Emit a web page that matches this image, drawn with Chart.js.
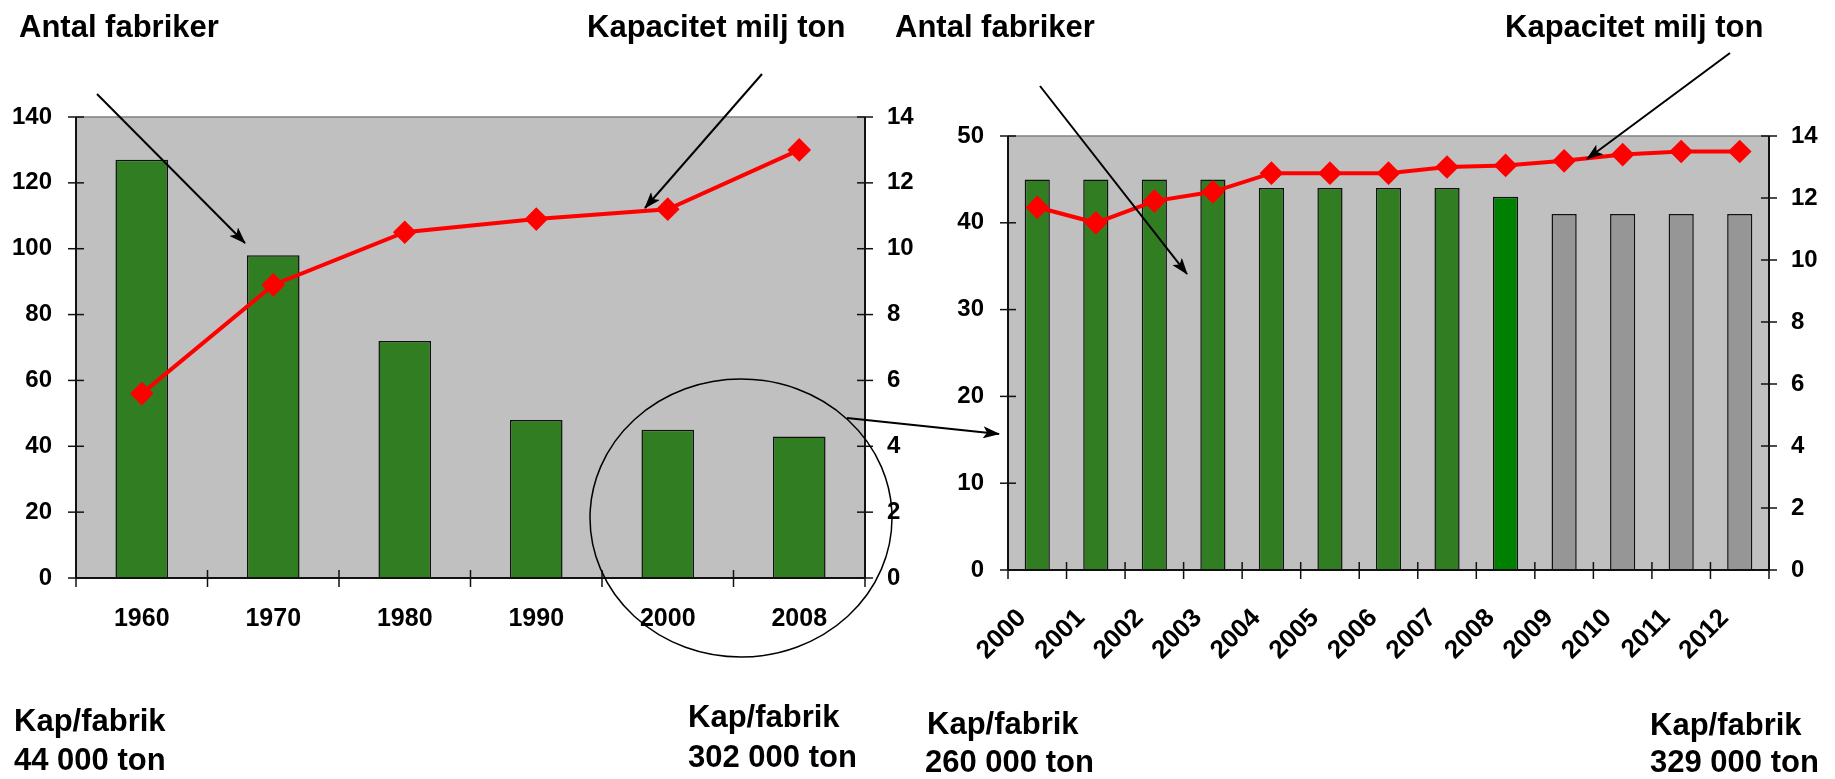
<!DOCTYPE html>
<html><head><meta charset="utf-8">
<script src="https://cdn.jsdelivr.net/npm/chart.js@4.4.1/dist/chart.umd.min.js"></script>
<style>
html,body{margin:0;padding:0;background:#fff;width:1835px;height:779px;overflow:hidden;}
#c1{position:absolute;left:0;top:0;}
#c2{position:absolute;left:940px;top:0;}
#ov{position:absolute;left:0;top:0;pointer-events:none;}
</style></head><body>
<canvas id="c1" width="940" height="779"></canvas>
<canvas id="c2" width="895" height="779"></canvas>
<svg id="ov" width="1835" height="779" xmlns="http://www.w3.org/2000/svg"></svg>
<script>
// ---- data ----
const leftYears = ['1960','1970','1980','1990','2000','2008'];
const leftFactories = [127, 98, 72, 48, 45, 43];
const leftCapacity = [5.6, 8.9, 10.5, 10.9, 11.2, 13.0];
const leftFactoryTicks = [0, 20, 40, 60, 80, 100, 120, 140];
const capacityTicks = [0, 2, 4, 6, 8, 10, 12, 14];

const rightYears = ['2000','2001','2002','2003','2004','2005','2006','2007','2008','2009','2010','2011','2012'];
const rightFactories = [45, 45, 45, 45, 44, 44, 44, 44, 43, 41, 41, 41, 41];
const rightCapacity = [11.7, 11.2, 11.9, 12.2, 12.8, 12.8, 12.8, 13.0, 13.05, 13.2, 13.4, 13.5, 13.5];
const rightFactoryTicks = [0, 10, 20, 30, 40, 50];
const highlightYear = '2008';
const forecastFrom = 2009;

const seriesNames = ['Antal fabriker', 'Kapacitet milj ton'];
const kapLabel = 'Kap/fabrik';
const kapValues = ['44 000 ton', '302 000 ton', '260 000 ton', '329 000 ton'];

// ---- styles ----
const GREEN = '#317e22', GREEN_HI = '#008000', GREY_BAR = '#969696';
const FONT = "'Liberation Sans', Arial, Helvetica, sans-serif";

const frame = {
  id: 'frame',
  beforeDatasetsDraw(chart) {
    const {ctx, chartArea: a} = chart;
    ctx.save();
    ctx.fillStyle = '#c0c0c0';
    ctx.fillRect(a.left, a.top, a.right - a.left, a.bottom - a.top);
    ctx.restore();
  },
  afterDatasetsDraw(chart) {
    const {ctx, chartArea: a, scales} = chart;
    const ln = (x1, y1, x2, y2) => { ctx.beginPath(); ctx.moveTo(x1, y1); ctx.lineTo(x2, y2); ctx.stroke(); };
    ctx.save();
    ctx.strokeStyle = '#808080'; ctx.lineWidth = 1.5;
    ln(a.left, a.top, a.right, a.top);
    ctx.strokeStyle = '#111'; ctx.lineWidth = 2;
    ln(a.left, a.top, a.left, a.bottom);
    ln(a.right, a.top, a.right, a.bottom);
    ln(a.left, a.bottom, a.right, a.bottom);
    ctx.lineWidth = 1.5;
    scales.y.ticks.forEach((t, i) => { const y = scales.y.getPixelForTick(i); ln(a.left - 8, y, a.left + 8, y); });
    scales.y1.ticks.forEach((t, i) => { const y = scales.y1.getPixelForTick(i); ln(a.right - 8, y, a.right + 8, y); });
    const n = scales.x.ticks.length;
    for (let i = 0; i <= n; i++) {
      const x = scales.x.left + i * (scales.x.width / n);
      ln(x, a.bottom - 8, x, a.bottom + 9);
    }
    ctx.restore();
  }
};

function makeChart(id, opts) {
  const tickFont = {family: FONT, size: 24, weight: 'bold'};
  return new Chart(document.getElementById(id), {
    type: 'bar',
    data: {
      labels: opts.labels,
      datasets: [
        {type: 'line', label: seriesNames[1], data: opts.capacity, yAxisID: 'y1', order: 0,
         borderColor: '#ff0000', borderWidth: 4, tension: 0,
         pointStyle: 'rectRot', pointRadius: 9, pointBackgroundColor: '#ff0000', pointBorderColor: '#ff0000'},
        {type: 'bar', label: seriesNames[0], data: opts.factories, yAxisID: 'y', order: 1,
         backgroundColor: opts.colors, borderColor: '#111', borderWidth: 1.5,
         categoryPercentage: 1, barPercentage: opts.barPct}
      ]
    },
    options: {
      responsive: false, animation: false, devicePixelRatio: 1,
      layout: {padding: {top: opts.top, left: 0, right: 0, bottom: 0}},
      plugins: {legend: {display: false}, tooltip: {enabled: false}, title: {display: false}},
      scales: {
        x: {
          grid: {display: false, drawTicks: false}, border: {display: false},
          ticks: {color: '#000', font: {family: FONT, size: opts.xFont, weight: 'bold'}, autoSkip: false,
                  maxRotation: opts.rot, minRotation: opts.rot, padding: opts.xPad, labelOffset: opts.labelOffset},
          afterFit: s => { s.height = opts.xH; }
        },
        y: {
          position: 'left', min: opts.yTicks[0], max: opts.yTicks[opts.yTicks.length - 1],
          grid: {display: false, drawTicks: false}, border: {display: false},
          ticks: {color: '#000', font: tickFont, stepSize: opts.yTicks[1] - opts.yTicks[0], padding: 24},
          afterFit: s => { s.width = opts.yW; }
        },
        y1: {
          position: 'right', min: capacityTicks[0], max: capacityTicks[capacityTicks.length - 1],
          grid: {display: false, drawTicks: false}, border: {display: false},
          ticks: {color: '#000', font: tickFont, stepSize: capacityTicks[1] - capacityTicks[0], padding: 22},
          afterFit: s => { s.width = opts.y1W; }
        }
      }
    },
    plugins: [frame]
  });
}

makeChart('c1', {
  labels: leftYears, factories: leftFactories, capacity: leftCapacity,
  colors: leftYears.map(() => GREEN), barPct: 0.4,
  yTicks: leftFactoryTicks, top: 117, yW: 76, y1W: 940 - 865, xH: 779 - 578,
  rot: 0, xPad: 26, labelOffset: 0, xFont: 25
});

makeChart('c2', {
  labels: rightYears, factories: rightFactories, capacity: rightCapacity,
  colors: rightYears.map(y => y === highlightYear ? GREEN_HI : (+y >= forecastFrom ? GREY_BAR : GREEN)),
  barPct: 0.43,
  yTicks: rightFactoryTicks, top: 136, yW: 1008 - 940, y1W: 1835 - 940 - (1769 - 940), xH: 779 - 570,
  rot: 45, xPad: 33, labelOffset: -15, xFont: 26
});

// ---- annotations overlay ----
const svg = document.getElementById('ov');
const NS = 'http://www.w3.org/2000/svg';
function el(tag, attrs, text) {
  const e = document.createElementNS(NS, tag);
  for (const k in attrs) e.setAttribute(k, attrs[k]);
  if (text !== undefined) e.textContent = text;
  svg.appendChild(e);
  return e;
}
const defs = el('defs', {});
const marker = document.createElementNS(NS, 'marker');
[['id','ah'],['markerWidth','18'],['markerHeight','12'],['refX','16'],['refY','6'],['orient','auto'],['markerUnits','userSpaceOnUse']]
  .forEach(([k,v]) => marker.setAttribute(k, v));
const mp = document.createElementNS(NS, 'path');
mp.setAttribute('d', 'M0,0 L17,6 L0,12 L4,6 Z'); mp.setAttribute('fill', '#000');
marker.appendChild(mp); defs.appendChild(marker);

const arrows = [[97, 94, 245, 243], [762, 74, 645, 208], [847, 418, 999, 434], [1040, 86, 1187, 274], [1730, 53, 1587, 159]];
arrows.forEach(([x1, y1, x2, y2]) => el('line', {x1, y1, x2, y2, stroke: '#000', 'stroke-width': 2, 'marker-end': 'url(#ah)'}));
el('ellipse', {cx: 741, cy: 518, rx: 151, ry: 139, fill: 'none', stroke: '#000', 'stroke-width': 1.5});

const txt = (x, y, s) => el('text', {x, y, 'font-family': FONT, 'font-size': 31, 'font-weight': 'bold', fill: '#000'}, s);
txt(19, 37, seriesNames[0]);
txt(587, 37, seriesNames[1]);
txt(895, 37, seriesNames[0]);
txt(1505, 37, seriesNames[1]);
txt(14, 731, kapLabel); txt(14, 770, kapValues[0]);
txt(688, 727, kapLabel); txt(688, 767, kapValues[1]);
txt(927, 734, kapLabel); txt(925, 772, kapValues[2]);
txt(1650, 735, kapLabel); txt(1650, 772, kapValues[3]);
</script>
</body></html>
